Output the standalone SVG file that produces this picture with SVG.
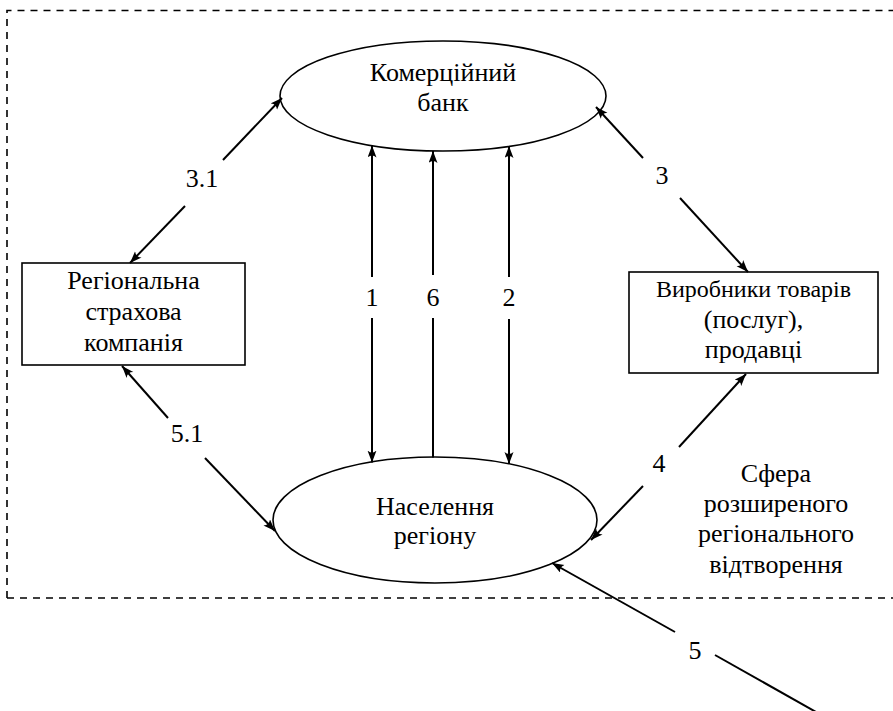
<svg xmlns="http://www.w3.org/2000/svg" width="893" height="711" viewBox="0 0 893 711" font-family="Liberation Serif, DejaVu Serif, serif">
<style>
text{font-family:"Liberation Serif", serif}
.t{font-size:26px;fill:#000;text-anchor:middle}
.shape{fill:#fff;stroke:#000;stroke-width:1.6}
.c{stroke:#000;stroke-width:2;fill:none}
.border{stroke:#000;stroke-width:1.6;fill:none;stroke-dasharray:7 6}
</style>
<defs>
<marker id="a" markerUnits="userSpaceOnUse" markerWidth="14" markerHeight="10" refX="12" refY="4.5" orient="auto-start-reverse">
<path d="M12,4.5 L0,0 Q4,4.5 0,9 Z" fill="#000"/>
</marker>
</defs>
<rect width="893" height="711" fill="#fff"/>
<g id="border">
<path class="border" d="M7,598 V10.5 H893"/>
<path class="border" d="M7,598 H893"/>
</g>
<g id="bank">
<ellipse class="shape" cx="443" cy="96" rx="163" ry="55"/>
<text class="t" x="443" y="81">Комерційний</text>
<text class="t" x="443" y="111">банк</text>
</g>
<g id="population">
<ellipse class="shape" cx="435" cy="520" rx="162" ry="63"/>
<text class="t" x="435" y="515">Населення</text>
<text class="t" x="435" y="544">регіону</text>
</g>
<g id="insurance">
<rect class="shape" x="22" y="263" width="223" height="102"/>
<text class="t" x="133.5" y="289">Регіональна</text>
<text class="t" x="133.5" y="320">страхова</text>
<text class="t" x="133.5" y="351">компанія</text>
</g>
<g id="producers">
<rect class="shape" x="629" y="272" width="249" height="101"/>
<text class="t" x="753.5" y="297" style="font-size:24px">Виробники товарів</text>
<text class="t" x="753.5" y="327.5">(послуг),</text>
<text class="t" x="753.5" y="358">продавці</text>
</g>
<g id="sphere">
<text class="t" x="776" y="482">Сфера</text>
<text class="t" x="776" y="512">розширеного</text>
<text class="t" x="776" y="542">регіонального</text>
<text class="t" x="776" y="573">відтворення</text>
</g>
<g id="connectors">
<line class="c" x1="372" y1="277" x2="372" y2="145.5" marker-end="url(#a)"/>
<line class="c" x1="372" y1="318" x2="372" y2="462.5" marker-end="url(#a)"/>
<text class="t" x="372" y="306">1</text>
<line class="c" x1="433" y1="275" x2="433" y2="151" marker-end="url(#a)"/>
<line class="c" x1="433" y1="318" x2="433" y2="457.5"/>
<text class="t" x="433" y="306">6</text>
<line class="c" x1="509" y1="277" x2="509" y2="146" marker-end="url(#a)"/>
<line class="c" x1="509" y1="319" x2="509" y2="464" marker-end="url(#a)"/>
<text class="t" x="509" y="306">2</text>
<line class="c" x1="223" y1="160" x2="282" y2="98" marker-end="url(#a)"/>
<line class="c" x1="185" y1="206" x2="130" y2="263" marker-end="url(#a)"/>
<text class="t" x="202" y="187">3.1</text>
<line class="c" x1="643" y1="158" x2="596" y2="107" marker-end="url(#a)"/>
<line class="c" x1="680" y1="198" x2="748" y2="272" marker-end="url(#a)"/>
<text class="t" x="662" y="184">3</text>
<line class="c" x1="168" y1="418" x2="122" y2="366" marker-end="url(#a)"/>
<line class="c" x1="205" y1="458" x2="275" y2="531" marker-end="url(#a)"/>
<text class="t" x="187" y="442">5.1</text>
<line class="c" x1="679" y1="447" x2="746" y2="374" marker-end="url(#a)"/>
<line class="c" x1="643" y1="486" x2="591" y2="540" marker-end="url(#a)"/>
<text class="t" x="659" y="472">4</text>
<line class="c" x1="675" y1="632" x2="552" y2="563" marker-end="url(#a)"/>
<line class="c" x1="715" y1="655" x2="832" y2="721"/>
<text class="t" x="695" y="659">5</text>
</g>
</svg>
